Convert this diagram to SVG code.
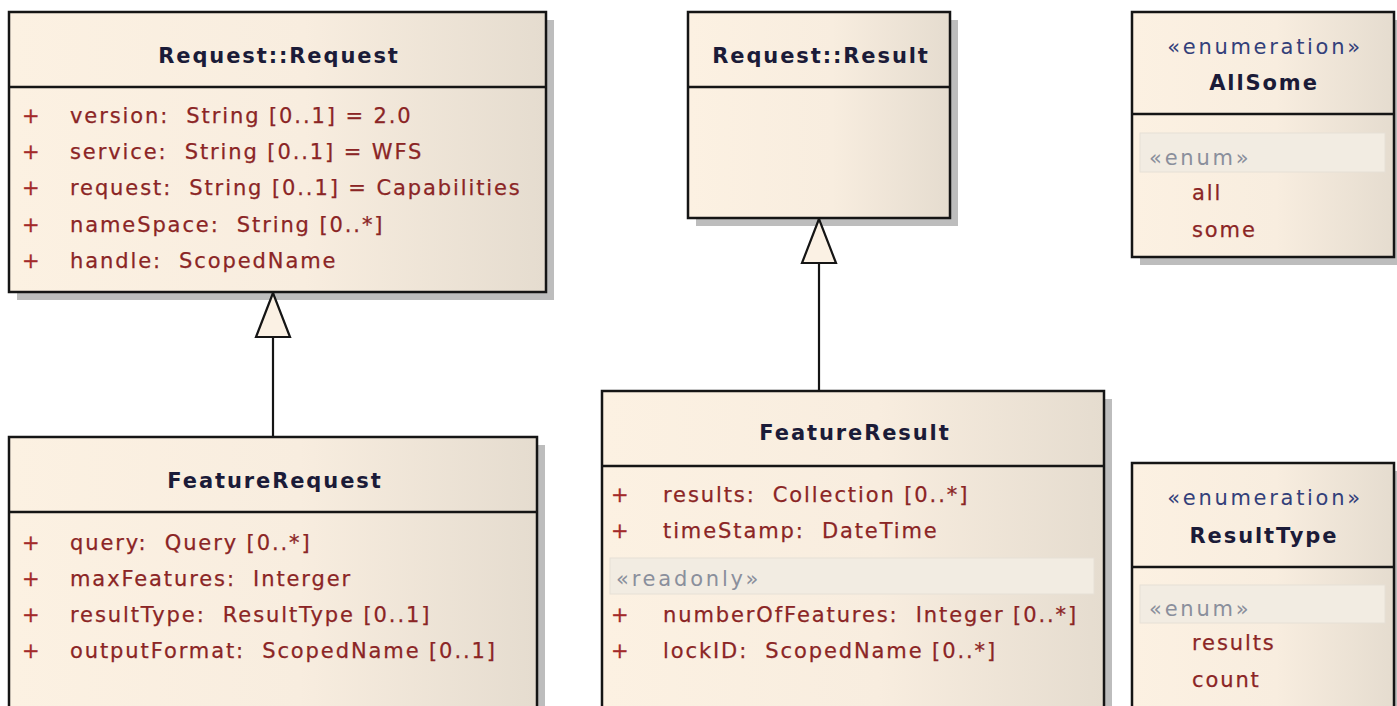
<svg xmlns="http://www.w3.org/2000/svg" width="1397" height="706" viewBox="0 0 1397 706">
  <style>
    .shadow { fill: #bdbdbd; }
    .box { fill: url(#classFill); stroke: #151515; stroke-width: 2.5; }
    .div { stroke: #151515; stroke-width: 2.5; }
    .band { fill: #f2ece2; stroke: #e6e0d6; stroke-width: 1; }
    .title { font-family: "DejaVu Sans", Verdana, sans-serif; font-size: 21px; font-weight: bold; fill: #1b1b38; letter-spacing: 1.9px; text-anchor: middle; }
    .stereo { font-family: "DejaVu Sans", Verdana, sans-serif; font-size: 21px; fill: #33407a; letter-spacing: 2.7px; text-anchor: middle; }
    .attr { font-family: "DejaVu Sans", Verdana, sans-serif; font-size: 21px; fill: #8b2525; stroke: #8b2525; stroke-width: 0.25; letter-spacing: 1.9px; white-space: pre; }
    .vis { font-family: "DejaVu Sans", Verdana, sans-serif; font-size: 21px; fill: #a32a2a; stroke: #a32a2a; stroke-width: 0.3; }
    .section { font-family: "DejaVu Sans", Verdana, sans-serif; font-size: 21px; fill: #8a8f9c; letter-spacing: 2.8px; }
    .edge { stroke: #151515; stroke-width: 2.2; fill: none; }
  </style>
  <defs>
    <linearGradient id="classFill" x1="0" y1="0" x2="1" y2="0">
      <stop offset="0" stop-color="#fcf1e2"/>
      <stop offset="0.55" stop-color="#f8eddf"/>
      <stop offset="1" stop-color="#e5dccf"/>
    </linearGradient>
    <!-- hollow triangle for generalization -->
    <marker id="gen" viewBox="0 0 48 38" refX="46" refY="19" markerWidth="48" markerHeight="38" markerUnits="userSpaceOnUse" orient="auto">
      <path d="M46,19 L2,2 L2,36 Z" fill="#fbf1e4" stroke="#151515" stroke-width="2.2"/>
    </marker>
  </defs>

  <!-- Request::Request -->
  <g id="request-request">
    <rect class="shadow" x="17" y="20" width="537" height="280"/>
    <rect class="box" x="9" y="12" width="537" height="280"/>
    <line class="div" x1="9" y1="87" x2="546" y2="87"/>
    <text class="title" x="279" y="63">Request::Request</text>
    <text class="vis" x="22" y="123">+</text>
    <text class="attr" x="70" y="123">version:  String [0..1] = 2.0</text>
    <text class="vis" x="22" y="159">+</text>
    <text class="attr" x="70" y="159">service:  String [0..1] = WFS</text>
    <text class="vis" x="22" y="195">+</text>
    <text class="attr" x="70" y="195">request:  String [0..1] = Capabilities</text>
    <text class="vis" x="22" y="232">+</text>
    <text class="attr" x="70" y="232">nameSpace:  String [0..*]</text>
    <text class="vis" x="22" y="268">+</text>
    <text class="attr" x="70" y="268">handle:  ScopedName</text>
  </g>

  <!-- Request::Result -->
  <g id="request-result">
    <rect class="shadow" x="696" y="20" width="262" height="206"/>
    <rect class="box" x="688" y="12" width="262" height="206"/>
    <line class="div" x1="688" y1="87" x2="950" y2="87"/>
    <text class="title" x="821" y="63">Request::Result</text>
  </g>

  <!-- AllSome enumeration -->
  <g id="allsome">
    <rect class="shadow" x="1140" y="20" width="262" height="245"/>
    <rect class="box" x="1132" y="12" width="262" height="245"/>
    <line class="div" x1="1132" y1="114" x2="1394" y2="114"/>
    <text class="stereo" x="1265" y="54">«enumeration»</text>
    <text class="title" x="1264" y="90">AllSome</text>
    <rect class="band" x="1140" y="133" width="245" height="39"/>
    <text class="section" x="1149" y="165">«enum»</text>
    <text class="attr" x="1192" y="200">all</text>
    <text class="attr" x="1192" y="237">some</text>
  </g>

  <!-- FeatureRequest -->
  <g id="feature-request">
    <rect class="shadow" x="17" y="445" width="528" height="290"/>
    <rect class="box" x="9" y="437" width="528" height="290"/>
    <line class="div" x1="9" y1="512" x2="537" y2="512"/>
    <text class="title" x="275" y="488">FeatureRequest</text>
    <text class="vis" x="22" y="550">+</text>
    <text class="attr" x="70" y="550">query:  Query [0..*]</text>
    <text class="vis" x="22" y="586">+</text>
    <text class="attr" x="70" y="586">maxFeatures:  Interger</text>
    <text class="vis" x="22" y="622">+</text>
    <text class="attr" x="70" y="622">resultType:  ResultType [0..1]</text>
    <text class="vis" x="22" y="658">+</text>
    <text class="attr" x="70" y="658">outputFormat:  ScopedName [0..1]</text>
  </g>

  <!-- FeatureResult -->
  <g id="feature-result">
    <rect class="shadow" x="610" y="399" width="502" height="340"/>
    <rect class="box" x="602" y="391" width="502" height="340"/>
    <line class="div" x1="602" y1="466" x2="1104" y2="466"/>
    <text class="title" x="855" y="440">FeatureResult</text>
    <text class="vis" x="611" y="502">+</text>
    <text class="attr" x="663" y="502">results:  Collection [0..*]</text>
    <text class="vis" x="611" y="538">+</text>
    <text class="attr" x="663" y="538">timeStamp:  DateTime</text>
    <rect class="band" x="610" y="558" width="484" height="36"/>
    <text class="section" x="616" y="586">«readonly»</text>
    <text class="vis" x="611" y="622">+</text>
    <text class="attr" x="663" y="622">numberOfFeatures:  Integer [0..*]</text>
    <text class="vis" x="611" y="658">+</text>
    <text class="attr" x="663" y="658">lockID:  ScopedName [0..*]</text>
  </g>

  <!-- ResultType enumeration -->
  <g id="resulttype">
    <rect class="shadow" x="1140" y="471" width="262" height="260"/>
    <rect class="box" x="1132" y="463" width="262" height="260"/>
    <line class="div" x1="1132" y1="567" x2="1394" y2="567"/>
    <text class="stereo" x="1265" y="505">«enumeration»</text>
    <text class="title" x="1264" y="543">ResultType</text>
    <rect class="band" x="1140" y="585" width="245" height="38"/>
    <text class="section" x="1149" y="616">«enum»</text>
    <text class="attr" x="1192" y="650">results</text>
    <text class="attr" x="1192" y="687">count</text>
  </g>

  <!-- generalizations -->
  <g id="connectors">
    <line class="edge" x1="273" y1="437" x2="273" y2="293" marker-end="url(#gen)"/>
    <line class="edge" x1="819" y1="391" x2="819" y2="219" marker-end="url(#gen)"/>
  </g>
</svg>
